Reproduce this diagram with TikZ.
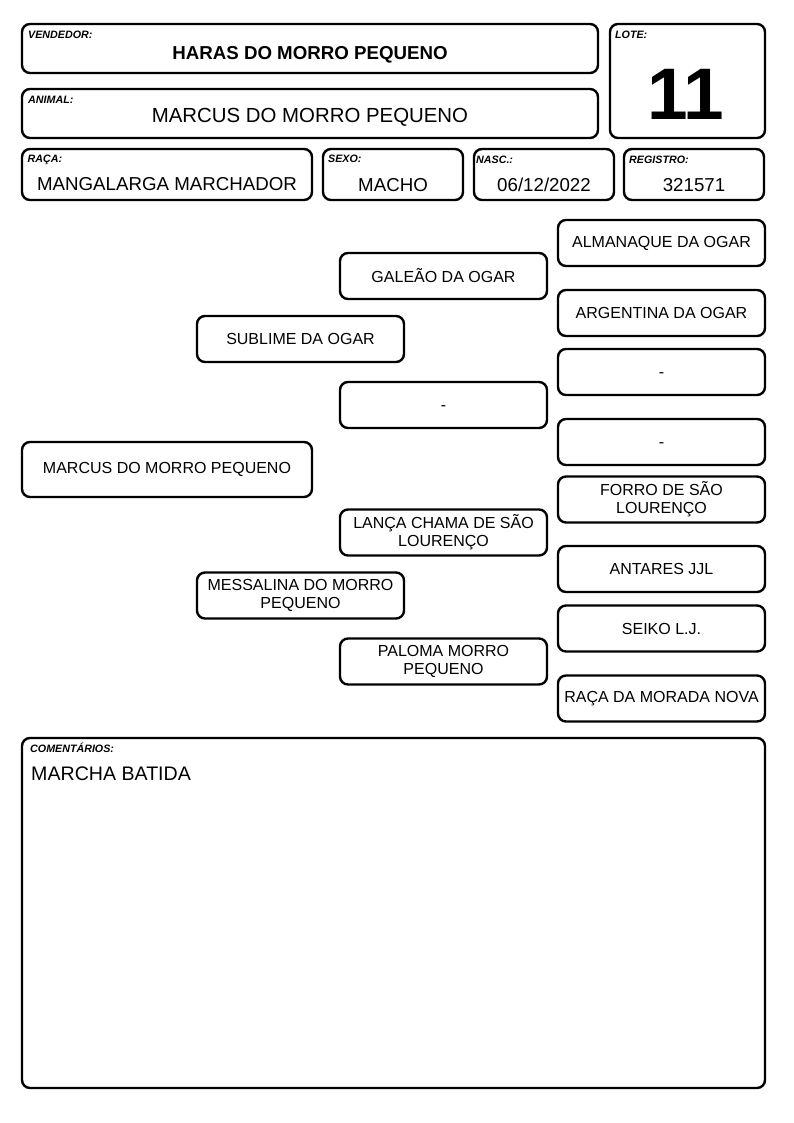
\documentclass[tikz,border=0pt]{standalone}
\usepackage{fontspec}
\setmainfont{Liberation Sans}
\begin{document}
\begin{tikzpicture}[x=1pt,y=-1pt,
  frame/.style={draw, rounded corners=8pt, line width=2.4pt, inner sep=0pt},
  pbox/.style={frame, minimum width=207pt, minimum height=46pt, align=center, font=\fontsize{16}{18}\selectfont},
  lbl/.style={anchor=base west, inner sep=0pt, font=\fontsize{10.7}{12}\selectfont\bfseries\itshape},
  val/.style={anchor=base, inner sep=0pt, font=\fontsize{18.7}{22}\selectfont}]
\useasboundingbox (0,0) rectangle (794,1123);
% header frames
\node[frame, minimum width=576pt, minimum height=49pt] (vend) at (310,48.5) {};
\node[frame, minimum width=155pt, minimum height=114pt] (lote) at (687.5,81) {};
\node[frame, minimum width=576pt, minimum height=49pt] (anim) at (310,113.5) {};
\node[frame, minimum width=290pt, minimum height=51pt] (raca) at (167,174.5) {};
\node[frame, minimum width=140pt, minimum height=51pt] (sexo) at (393,174.5) {};
\node[frame, minimum width=140pt, minimum height=51pt] (nasc) at (544,174.5) {};
\node[frame, minimum width=140pt, minimum height=51pt] (reg) at (694,174.5) {};
\node[frame, minimum width=743pt, minimum height=350pt] (com) at (393.5,913) {};
% labels
\node[lbl] (vendl) at (28,39) {VENDEDOR:};
\node[lbl] (lotel) at (615,39) {LOTE:};
\node[lbl] (animl) at (28,103.5) {ANIMAL:};
\node[lbl] (racal) at (27.5,163) {RAÇA:};
\node[lbl] (sexol) at (328,163) {SEXO:};
\node[lbl] (nascl) at (476,164) {NASC.:};
\node[lbl] (regl) at (629,164) {REGISTRO:};
\node[lbl] (coml) at (30,752.5) {COMENTÁRIOS:};
% values
\node[val, font=\fontsize{18.7}{22}\selectfont\bfseries] (vendv) at (310,60) {HARAS DO MORRO PEQUENO};
\node[val, font=\fontsize{20.4}{24}\selectfont] (animv) at (310,122.5) {MARCUS DO MORRO PEQUENO};
\node[val] (racav) at (167,191) {MANGALARGA MARCHADOR};
\node[val] (sexov) at (393,192) {MACHO};
\node[val] (nascv) at (544,192) {06/12/2022};
\node[val] (regv) at (694,192) {321571};
\node[val, font=\fontsize{73}{78}\selectfont\bfseries] (lotev) at (686,120) {11};
\node[val, anchor=base west, font=\fontsize{19.6}{24}\selectfont] (comv) at (31,780) {MARCHA BATIDA};
% pedigree
\node[pbox, minimum width=290pt, minimum height=55pt] (p0) at (167,469.5) {MARCUS DO MORRO PEQUENO};
\node[pbox] (p1) at (300.5,339) {SUBLIME DA OGAR};
\node[pbox] (p2) at (300.5,595.5) {MESSALINA DO MORRO\\PEQUENO};
\node[pbox] (p3) at (443.5,276) {GALEÃO DA OGAR};
\node[pbox] (p4) at (443.5,405) {\vphantom{A}-};
\node[pbox] (p5) at (443.5,532.5) {LANÇA CHAMA DE SÃO\\LOURENÇO};
\node[pbox] (p6) at (443.5,661.5) {PALOMA MORRO\\PEQUENO};
\node[pbox] (p7) at (661.5,243) {ALMANAQUE DA OGAR};
\node[pbox] (p8) at (661.5,313) {ARGENTINA DA OGAR};
\node[pbox] (p9) at (661.5,372) {\vphantom{A}-};
\node[pbox] (p10) at (661.5,442) {\vphantom{A}-};
\node[pbox] (p11) at (661.5,499.5) {FORRO DE SÃO\\LOURENÇO};
\node[pbox] (p12) at (661.5,569) {ANTARES JJL};
\node[pbox] (p13) at (661.5,628.5) {SEIKO L.J.};
\node[pbox] (p14) at (661.5,698.5) {RAÇA DA MORADA NOVA};
\end{tikzpicture}
\end{document}
